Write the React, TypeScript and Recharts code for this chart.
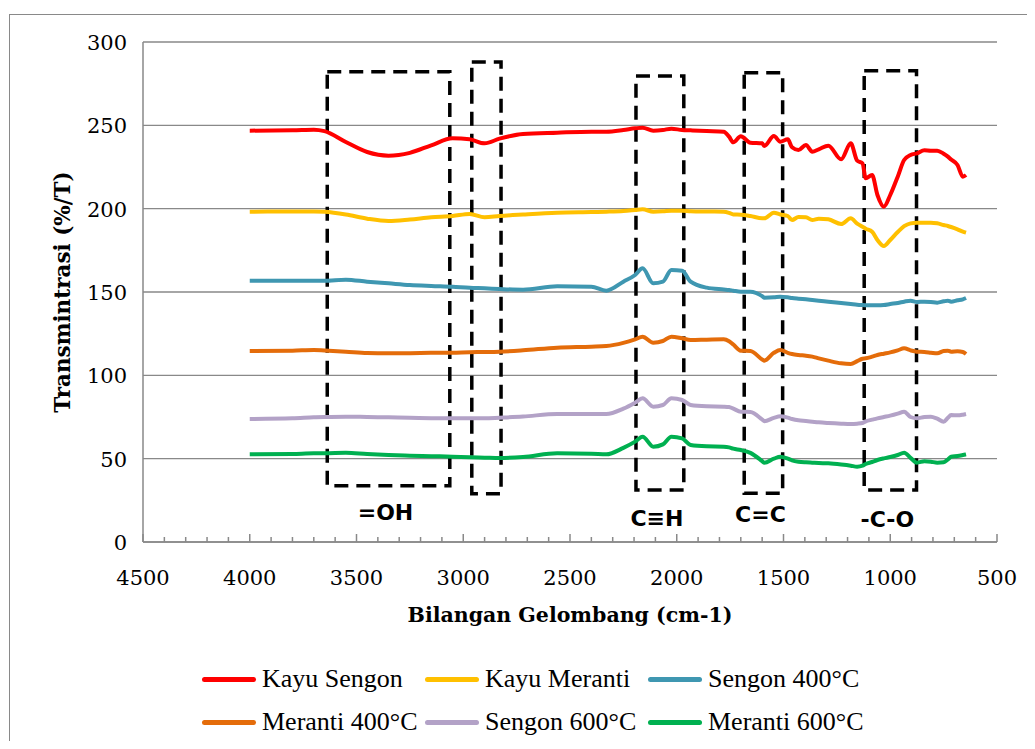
import { LineChart, Line, XAxis, YAxis, CartesianGrid, Legend, ReferenceArea } from 'recharts';

// wavenumber (cm-1) sampled along the spectra
const wavenumbers = [
  4000, 3800, 3700, 3650, 3550, 3450, 3350, 3250, 3150, 3050, 2970, 2900, 2830, 2720, 2560, 2400,
  2330, 2250, 2195, 2160, 2110, 2065, 2025, 1975, 1935, 1860, 1780, 1755, 1735, 1700, 1655, 1600,
  1590, 1545, 1515, 1480, 1460, 1430, 1395, 1365, 1335, 1290, 1230, 1185, 1155, 1130, 1115, 1085,
  1060, 1030, 1000, 965, 935, 905, 875, 840, 810, 780, 750, 730, 715, 685, 660, 645,
];

const kayuSengon = [
  246.8, 247, 247.4, 246.5, 240, 234, 231.8, 233.5, 238, 242.2, 241.6, 239.2, 242, 244.8, 245.6, 246.2,
  246.2, 247.2, 248.2, 248.6, 246.8, 247.2, 248, 247.2, 247, 246.6, 246.2, 243.2, 239.8, 243.4, 239.6, 239.2,
  237.6, 243.6, 240.2, 241.6, 236.8, 235.2, 238.2, 234.2, 235.6, 237.8, 229.6, 239.2, 228.8, 227.2, 218.2, 220.2,
  208.2, 201.2, 208.2, 219.2, 229.2, 232.2, 233.2, 235, 234.8, 234.8, 233, 231.2, 229.5, 226.2, 219.2, 220.2,
];

const kayuMeranti = [
  198.2, 198.3, 198.3, 198.1, 196.5, 194, 192.6, 193.5, 194.8, 195.6, 196.8, 194.8, 195.6, 196.5, 197.6, 198,
  198.2, 198.6, 199.2, 199.6, 198.2, 198.4, 198.8, 198.8, 198.5, 198.3, 198.2, 197.5, 196.5, 196.4, 195.6, 194.2,
  194.2, 197.6, 196.5, 195.6, 193.2, 195, 194.8, 193.2, 194, 193.6, 190.8, 194.2, 191, 189.2, 188, 186.2,
  181.2, 177.6, 181.2, 186, 189.5, 191.2, 191.6, 191.6, 191.6, 191.2, 190.2, 189.6, 189, 187.6, 186.2, 185.6,
];

const sengon400 = [
  156.8, 156.8, 156.8, 156.8, 157.4, 156.2, 155.2, 154.2, 153.6, 153.1, 152.5, 152.2, 151.8, 151.4, 153.4, 153.2,
  150.8, 156.2, 160.2, 164.2, 155.2, 156.2, 163.2, 162.8, 156.2, 152.6, 151.5, 151.2, 150.8, 150.2, 150.2, 147.5,
  146.6, 146.8, 147.2, 146.8, 146.4, 146, 145.6, 145.2, 144.8, 144.2, 143.4, 142.8, 142.4, 142.2, 142.1, 142,
  142, 142.2, 142.8, 143.4, 144.2, 144.8, 144, 144.2, 144, 143.6, 144.4, 144.8, 144.2, 145, 145.6, 146.4,
];

const meranti400 = [
  114.6, 114.8, 115.2, 114.9, 114.2, 113.4, 113.2, 113.3, 113.5, 113.6, 113.9, 114, 114.2, 115, 116.6, 117.2,
  117.6, 119.5, 121.6, 123.2, 119.6, 120.6, 123.2, 122.2, 121.2, 121.4, 121.6, 120.5, 118.5, 114.8, 114.6, 109.5,
  108.8, 113.5, 115.2, 113.5, 112.8, 112.2, 111.8, 111.2, 110.2, 108.8, 107.2, 106.8, 108.5, 110, 110.2, 111.2,
  112.2, 113, 113.8, 115, 116.2, 115, 114.2, 114, 113.6, 113.2, 114.6, 114.8, 114.2, 114.4, 114, 112.8,
];

const sengon600 = [
  73.8, 74.2, 74.8, 75, 75.2, 75, 74.8, 74.6, 74.3, 74.2, 74.2, 74.2, 74.6, 75.3, 76.8, 76.8,
  76.8, 80, 83.6, 86.2, 81.2, 82.2, 86.2, 85.2, 82.2, 81.4, 81.2, 81, 80, 78.2, 78, 73.5,
  72.5, 74.5, 75.4, 74.6, 73.8, 73, 72.6, 72.2, 71.8, 71.4, 71, 70.8, 71, 71.4, 72.4, 73.4,
  74.2, 75, 75.8, 77, 78.2, 75, 74.2, 75, 75.2, 74, 72.2, 74.5, 76.2, 76, 76.4, 76.8,
];

const meranti600 = [
  52.6, 52.8, 53.2, 53.2, 53.6, 52.8, 52.2, 51.8, 51.5, 51.2, 50.8, 50.6, 50.4, 51, 53.2, 53,
  52.6, 56.5, 60.2, 63.2, 57.2, 58.6, 63.2, 62.2, 58.2, 57.4, 57.2, 56.8, 56, 55.2, 53.5, 48.5,
  47.5, 50, 51.2, 50, 49, 48.2, 47.8, 47.6, 47.4, 47.2, 46.5, 45.8, 45.2, 45.8, 46.8, 48,
  49.2, 50.2, 51, 52.2, 53.6, 50.5, 47.6, 48.5, 48.2, 47.6, 47.8, 49.5, 51.2, 51.6, 52.2, 52.6,
];

const xTicks = [4500, 4400, 4300, 4200, 4100, 4000, 3900, 3800, 3700, 3600, 3500, 3400, 3300, 3200, 3100,
  3000, 2900, 2800, 2700, 2600, 2500, 2400, 2300, 2200, 2100, 2000, 1900, 1800, 1700, 1600, 1500, 1400,
  1300, 1200, 1100, 1000, 900, 800, 700, 600, 500];
const yTicks = [0, 50, 100, 150, 200, 250, 300];

// dashed boxes marking the absorption bands
const bandLabels = ['=OH', '', 'C\u2261H', 'C=C', '-C-O'];
const bandX1 = [3637, 2960, 2191, 1684, 1122];
const bandX2 = [3063, 2823, 1967, 1504, 877];
const bandY1 = [33.8, 29, 31.2, 29.2, 31.2];
const bandY2 = [282.2, 288, 279.6, 281.6, 282.8];

const data = wavenumbers.map((wn, i) => ({
  wn,
  kayuSengon: kayuSengon[i],
  kayuMeranti: kayuMeranti[i],
  sengon400: sengon400[i],
  meranti400: meranti400[i],
  sengon600: sengon600[i],
  meranti600: meranti600[i],
}));

const lines = [
  { key: 'kayuSengon', name: 'Kayu Sengon', color: '#FF0000' },
  { key: 'kayuMeranti', name: 'Kayu Meranti', color: '#FFC000' },
  { key: 'sengon400', name: 'Sengon 400°C', color: '#3F97B1' },
  { key: 'meranti400', name: 'Meranti 400°C', color: '#E46C0A' },
  { key: 'sengon600', name: 'Sengon 600°C', color: '#B3A2C7' },
  { key: 'meranti600', name: 'Meranti 600°C', color: '#00B050' },
];

const HTML_SERIF = '"Liberation Serif", "Times New Roman", serif';
// svg text only picks up the DejaVu families here
const SVG_SERIF = 'DejaVu Serif';
const SVG_SANS = 'DejaVu Sans';
const GRID = '#898989';
const labelGaps = [18, 0, 20, 13, 21];

const XTick = (props: any) => {
  const { x, y, payload } = props;
  const major = payload.value % 500 === 0;
  return (
    <g>
      <line x1={x} x2={x} y1={y} y2={y - (major ? 8 : 5)} stroke={GRID} strokeWidth={1.5} />
      {major && (
        <text x={x} y={y + 43} textAnchor="middle" fill="#000" fontFamily={SVG_SERIF} fontSize={21}>
          {payload.value}
        </text>
      )}
    </g>
  );
};

const YTick = (props: any) => {
  const { x, y, payload } = props;
  return (
    <text x={x} y={y} dy={8} textAnchor="end" fill="#000" fontFamily={SVG_SERIF} fontSize={21}>
      {payload.value}
    </text>
  );
};

const renderLegend = (props: any) => {
  const { payload = [] } = props;
  const ordered = lines
    .map((l) => payload.find((p: any) => p.value === l.name))
    .filter(Boolean);
  return (
    <div style={{ display: 'grid', gridTemplateColumns: 'repeat(3, 223px)', rowGap: 15 }}>
      {ordered.map((p: any) => (
        <div key={p.value} style={{ display: 'flex', alignItems: 'center', height: 28 }}>
          <span style={{ width: 54, height: 5, background: p.color, borderRadius: 3, marginRight: 6 }} />
          <span style={{ fontSize: 26, fontFamily: HTML_SERIF, color: '#000', whiteSpace: 'nowrap' }}>{p.value}</span>
        </div>
      ))}
    </div>
  );
};

const BandLabel = (props: any) => {
  const { viewBox, value, gap } = props;
  if (!viewBox || !value) return null;
  return (
    <text
      x={viewBox.x + viewBox.width / 2 - 3}
      y={viewBox.y + viewBox.height + gap + 16}
      textAnchor="middle"
      fill="#000"
      fontFamily={SVG_SANS}
      fontWeight="bold"
      fontSize={22}
    >
      {value}
    </text>
  );
};

const App = () => {
  return (
    <div style={{ position: 'relative', width: 1027, height: 733, overflow: 'hidden', background: '#fff' }}>
      <div
        style={{
          position: 'absolute', left: 1, top: 6, right: -10, bottom: -10,
          borderTop: `1px solid ${GRID}`, borderLeft: `1px solid ${GRID}`,
        }}
      />
      <LineChart
        width={1027}
        height={733}
        data={data}
        margin={{ top: 34, right: 38, left: 5, bottom: 109 }}
        style={{ position: 'absolute', left: 0, top: 0 }}
      >
        <CartesianGrid vertical={false} stroke={GRID} strokeWidth={1.3} />
        <XAxis
          type="number"
          dataKey="wn"
          domain={[500, 4500]}
          reversed
          ticks={xTicks}
          interval={0}
          height={90}
          tickSize={0}
          tickMargin={0}
          tickLine={false}
          tick={<XTick />}
          axisLine={{ stroke: GRID, strokeWidth: 1.5 }}
          label={{
            content: ({ viewBox }: any) => (
              <text
                x={viewBox.x + viewBox.width / 2}
                y={viewBox.y + 80}
                textAnchor="middle"
                fill="#000"
                fontFamily={SVG_SERIF}
                fontWeight="bold"
                fontSize={20.5}
              >
                Bilangan Gelombang (cm-1)
              </text>
            ),
          }}
        />
        <YAxis
          type="number"
          domain={[0, 300]}
          ticks={yTicks}
          width={130}
          tickSize={0}
          tickMargin={16}
          tickLine={false}
          axisLine={{ stroke: GRID, strokeWidth: 1.5 }}
          tick={<YTick />}
          label={{
            content: ({ viewBox }: any) => {
              const cx = viewBox.x + 49;
              const cy = viewBox.y + viewBox.height / 2;
              return (
                <text
                  x={cx}
                  y={cy}
                  transform={`rotate(-90, ${cx}, ${cy})`}
                  textAnchor="middle"
                  dominantBaseline="central"
                  fill="#000"
                  fontFamily={SVG_SERIF}
                  fontWeight="bold"
                  fontSize={21.5}
                >
                  Transmintrasi (%/T)
                </text>
              );
            },
          }}
        />
        {lines.map((l) => (
          <Line
            key={l.key}
            dataKey={l.key}
            name={l.name}
            stroke={l.color}
            strokeWidth={4}
            type="monotone"
            dot={false}
            activeDot={false}
            isAnimationActive={false}
          />
        ))}
        {bandLabels.map((lab, i) => (
          <ReferenceArea
            key={`band-${i}`}
            x1={bandX1[i]}
            x2={bandX2[i]}
            y1={bandY1[i]}
            y2={bandY2[i]}
            fill="none"
            fillOpacity={0}
            stroke="#000"
            strokeWidth={3.5}
            strokeDasharray="14 8"
            ifOverflow="visible"
            label={<BandLabel value={lab} gap={labelGaps[i]} />}
          />
        ))}
        <Legend
          verticalAlign="middle"
          align="center"
          layout="horizontal"
          content={renderLegend}
          wrapperStyle={{ top: 657, left: 194, width: 700 }}
        />
      </LineChart>
    </div>
  );
};

export default App;
